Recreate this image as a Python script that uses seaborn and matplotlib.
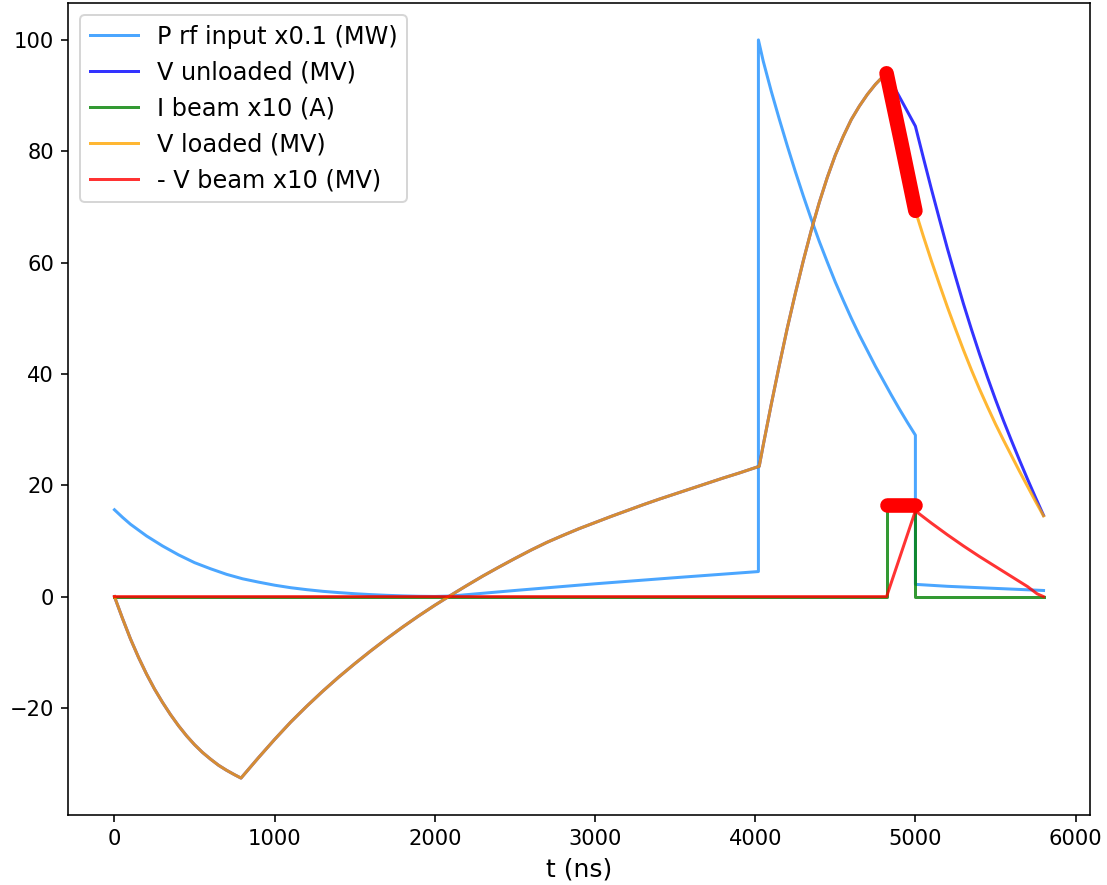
import matplotlib
matplotlib.use("Agg")
import matplotlib.pyplot as plt
import seaborn as sns
import pandas as pd

# ---------------- data ----------------
# RF input power x0.1 (MW)
t_prf = [0, 50, 100, 200, 300, 400, 500, 600, 700, 800, 900, 1000, 1100, 1200,
         1300, 1400, 1500, 1600, 1700, 1800, 1900, 2000, 2100,
         2500, 3000, 3500, 4020,
         4020, 4050, 4100, 4150, 4200, 4250, 4300, 4350, 4400, 4450, 4500,
         4550, 4600, 4650, 4700, 4750, 4800, 4850, 4900, 4950, 5000,
         5000, 5200, 5400, 5600, 5800]
p_rf = [15.6, 14.25, 13.0, 10.9, 9.1, 7.5, 6.1, 5.0, 4.0, 3.2, 2.6, 2.05, 1.6, 1.25,
        0.95, 0.72, 0.52, 0.36, 0.23, 0.13, 0.06, 0.03, 0.1,
        1.1, 2.3, 3.4, 4.5,
        100.0, 96.2, 90.8, 85.8, 81.0, 76.4, 72.0, 67.8, 63.8, 60.1, 56.5,
        53.2, 50.0, 47.0, 44.2, 41.4, 38.8, 36.2, 33.7, 31.3, 29.0,
        2.2, 1.85, 1.6, 1.35, 1.1]

# Cavity voltage before beam arrival (loaded == unloaded) (MV)
t_fill = [0, 50, 100, 150, 200, 250, 300, 350, 400, 450, 500, 550, 600, 650,
          700, 750, 790, 900, 1000, 1100, 1200, 1300, 1400, 1500, 1600, 1700,
          1800, 1900, 2000, 2100, 2200, 2300, 2400, 2500, 2600, 2700, 2800,
          2900, 3000, 3100, 3200, 3300, 3400, 3500, 3600, 3700, 3800, 3900,
          4025, 4050, 4100, 4150, 4200, 4250, 4300, 4350, 4400, 4450, 4500,
          4550, 4600, 4650, 4700, 4750, 4800, 4820]
v_fill = [0.0, -3.9, -7.6, -10.9, -13.9, -16.6, -19.0, -21.2, -23.2, -25.0,
          -26.6, -28.0, -29.2, -30.3, -31.2, -32.0, -32.6, -28.9, -25.65,
          -22.55, -19.7, -17.0, -14.45, -12.05, -9.75, -7.55, -5.45, -3.45,
          -1.55, 0.25, 2.0, 3.7, 5.3, 6.85, 8.35, 9.75, 11.0, 12.2, 13.3,
          14.4, 15.45, 16.5, 17.5, 18.45, 19.4, 20.35, 21.3, 22.2, 23.4,
          27.2, 34.5, 41.5, 48.2, 54.4, 60.3, 65.8, 70.8, 75.3, 79.3, 82.7,
          85.7, 88.1, 90.2, 92.0, 93.5, 94.0]

# Unloaded voltage after beam arrival (MV)
t_unl_tail = [4900, 5000, 5050, 5100, 5150, 5200, 5250, 5300, 5350, 5400,
              5450, 5500, 5550, 5600, 5650, 5700, 5750, 5800]
v_unl_tail = [89.8, 84.5, 78.8, 73.2, 67.8, 62.5, 57.5, 52.6, 48.0, 43.6,
              39.4, 35.4, 31.6, 28.0, 24.5, 21.1, 17.8, 14.6]

# Loaded voltage after beam arrival (MV)
t_ld_tail = [4910, 5000, 5050, 5100, 5150, 5200, 5250, 5300, 5350, 5400,
             5450, 5500, 5550, 5600, 5650, 5700, 5750, 5800]
v_ld_tail = [81.8, 69.3, 64.7, 60.3, 56.1, 52.0, 48.1, 44.3, 40.7, 37.3,
             34.1, 31.0, 28.1, 25.3, 22.5, 19.8, 17.1, 14.5]

# Beam current x10 (A)
t_ib = [0, 4820, 4820, 5000, 5000, 5800]
i_beam = [0.0, 0.0, 16.5, 16.5, 0.0, 0.0]

# - Beam-induced voltage x10 (MV)
t_vb = [0, 4820, 5000, 5100, 5200, 5300, 5400, 5500, 5600, 5700, 5760, 5800]
v_beam = [0.0, 0.0, 15.4, 13.2, 11.1, 9.1, 7.2, 5.4, 3.6, 1.8, 0.5, 0.0]

# Beam window (ns)
beam_on = [4820, 5000]

labels = ["P rf input x0.1 (MW)", "V unloaded (MV)", "I beam x10 (A)",
          "V loaded (MV)", "- V beam x10 (MV)"]

# ---------------- build tables ----------------
df_prf = pd.DataFrame({"t": t_prf, "v": p_rf})
df_unl = pd.DataFrame({"t": t_fill + t_unl_tail, "v": v_fill + v_unl_tail})
df_ld = pd.DataFrame({"t": t_fill + t_ld_tail, "v": v_fill + v_ld_tail})
df_ib = pd.DataFrame({"t": t_ib, "v": i_beam})
df_vb = pd.DataFrame({"t": t_vb, "v": v_beam})

# ---------------- figure ----------------
DPI = 144
fig = plt.figure(figsize=(1107 / DPI, 885 / DPI), dpi=DPI)
ax = fig.add_axes([68 / 1107, 1 - 815 / 885, (1090 - 68) / 1107, (815 - 3) / 885])

common = dict(ax=ax, x="t", y="v", sort=False, estimator=None, alpha=0.8, lw=1.5)
sns.lineplot(data=df_prf, color="dodgerblue", label=labels[0], **common)
sns.lineplot(data=df_unl, color="blue", label=labels[1], **common)
sns.lineplot(data=df_ib, color="green", label=labels[2], **common)
sns.lineplot(data=df_ld, color="orange", label=labels[3], **common)
sns.lineplot(data=df_vb, color="red", label=labels[4], **common)

# highlight beam window on loaded voltage and beam current
win_ld = df_ld[(df_ld.t >= beam_on[0]) & (df_ld.t <= beam_on[1])]
win_ib = df_ib[(df_ib.t >= beam_on[0]) & (df_ib.t <= beam_on[1]) & (df_ib.v > 0)]
thick = dict(ax=ax, x="t", y="v", sort=False, estimator=None, color="red",
             lw=7.3, solid_capstyle="round", legend=False)
sns.lineplot(data=win_ld, **thick)
sns.lineplot(data=win_ib, **thick)

ax.set_xlabel("t (ns)", fontsize=12.5)
ax.set_ylabel("")
ax.tick_params(labelsize=10.5)
ax.legend(loc="upper left", fontsize=12)

fig.savefig("out.png", dpi=DPI)
